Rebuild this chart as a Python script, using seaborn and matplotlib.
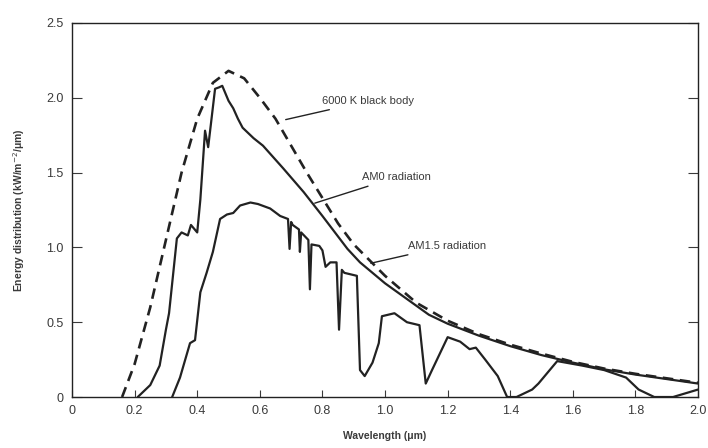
"""
Solar spectrum: 6000 K black body, AM0 and AM1.5 radiation
"""

import matplotlib.pyplot as plt
import pandas as pd
import seaborn as sns

# wavelength (um) / energy distribution (kW/m^2/um)
bb_x = [0.16, 0.2, 0.25, 0.3, 0.35, 0.4, 0.45, 0.5, 0.55, 0.6, 0.65, 0.7, 0.75,
        0.8, 0.85, 0.9, 1.0, 1.1, 1.2, 1.3, 1.4, 1.5, 1.6, 1.7, 1.8, 1.9, 2.0]
bb_y = [0.0, 0.22, 0.6, 1.05, 1.5, 1.86, 2.1, 2.18, 2.13, 2.0, 1.86, 1.68, 1.5,
        1.33, 1.16, 1.02, 0.81, 0.63, 0.51, 0.42, 0.35, 0.29, 0.235, 0.19, 0.155,
        0.125, 0.095]

am0_x = [0.21, 0.25, 0.28, 0.3, 0.31, 0.335, 0.35, 0.37, 0.38, 0.4, 0.41, 0.425,
         0.435, 0.457, 0.47, 0.48, 0.5, 0.515, 0.53, 0.545, 0.58, 0.61, 0.674,
         0.74, 0.8, 0.88, 0.92, 1.0, 1.14, 1.2, 1.3, 1.4, 1.5, 1.6, 1.7, 1.8,
         1.9, 2.0]
am0_y = [0.0, 0.08, 0.21, 0.45, 0.56, 1.06, 1.1, 1.08, 1.15, 1.1, 1.32, 1.78,
         1.67, 2.06, 2.07, 2.08, 1.98, 1.93, 1.86, 1.8, 1.73, 1.68, 1.53,
         1.37, 1.21, 0.99, 0.9, 0.76, 0.55, 0.49, 0.41, 0.34, 0.28, 0.23,
         0.185, 0.15, 0.12, 0.09]

am15_x = [0.32, 0.345, 0.377, 0.393, 0.41, 0.43, 0.45, 0.473, 0.495, 0.515,
          0.537, 0.57, 0.594, 0.633, 0.665, 0.69, 0.695, 0.70, 0.705, 0.725,
          0.728, 0.732, 0.755, 0.76, 0.765, 0.79, 0.80, 0.81, 0.825, 0.845,
          0.853, 0.862, 0.87, 0.91, 0.92, 0.935, 0.96, 0.98, 0.99, 1.03, 1.07,
          1.11, 1.13, 1.15, 1.2, 1.24, 1.27, 1.29, 1.32, 1.36, 1.39, 1.42,
          1.47, 1.49, 1.55, 1.63, 1.7, 1.77, 1.81, 1.86, 1.92, 2.0]
am15_y = [0.0, 0.13, 0.36, 0.38, 0.7, 0.83, 0.97, 1.19, 1.22, 1.23,
          1.28, 1.3, 1.29, 1.26, 1.21, 1.19, 0.99, 1.17, 1.15, 1.12,
          0.97, 1.1, 1.05, 0.72, 1.02, 1.01, 0.98, 0.87, 0.9, 0.9,
          0.45, 0.85, 0.83, 0.81, 0.18, 0.14, 0.23, 0.36, 0.54, 0.56, 0.5,
          0.48, 0.09, 0.18, 0.4, 0.37, 0.32, 0.33, 0.25, 0.14, 0.0, 0.0,
          0.05, 0.09, 0.24, 0.21, 0.18, 0.13, 0.05, 0.0, 0.0, 0.05]

x_ticks = [0, 0.2, 0.4, 0.6, 0.8, 1.0, 1.2, 1.4, 1.6, 1.8, 2.0]
x_labels = ['0', '0.2', '0.4', '0.6', '0.8', '1.0', '1.2', '1.4', '1.6', '1.8', '2.0']
y_ticks = [0, 0.5, 1.0, 1.5, 2.0, 2.5]
y_labels = ['0', '0.5', '1.0', '1.5', '2.0', '2.5']

sns.set_style("ticks")
plt.rcParams['font.family'] = ['Liberation Sans', 'DejaVu Sans']

ink = '#222222'
txt = '#3a3a3a'

fig = plt.figure(figsize=(7.08, 4.48), dpi=100)
ax = fig.add_axes([0.1017, 0.1138, 0.8843, 0.8349])

bb = pd.DataFrame({'x': bb_x, 'y': bb_y})
am0 = pd.DataFrame({'x': am0_x, 'y': am0_y})
am15 = pd.DataFrame({'x': am15_x, 'y': am15_y})

sns.lineplot(data=bb, x='x', y='y', ax=ax, sort=False, estimator=None,
             color=ink, lw=1.9, linestyle=(0, (4, 2.5)))
sns.lineplot(data=am0, x='x', y='y', ax=ax, sort=False, estimator=None,
             color=ink, lw=1.6)
sns.lineplot(data=am15, x='x', y='y', ax=ax, sort=False, estimator=None,
             color=ink, lw=1.6)

ax.set_xlim(0, 2.0)
ax.set_ylim(0, 2.5)
ax.set_xticks(x_ticks)
ax.set_xticklabels(x_labels)
ax.set_yticks(y_ticks)
ax.set_yticklabels(y_labels)
ax.tick_params(axis='x', direction='in', length=5, width=0.8, colors=txt,
               labelsize=9, pad=6)
ax.tick_params(axis='y', direction='in', length=7, width=0.8, colors=txt,
               labelsize=9, pad=6, right=True)
for s in ax.spines.values():
    s.set_color(ink)
    s.set_linewidth(1.0)

ax.set_xlabel('Wavelength (\u03bcm)', fontsize=7.5, color=txt, labelpad=10,
              fontweight='bold')
ax.set_ylabel('Energy distribution (kW/m$^{-2}$/\u03bcm)', fontsize=7.5,
              color=txt, labelpad=14, fontweight='bold')

# callouts
arrow = dict(arrowstyle='-', color=ink, lw=1.0)
ax.annotate('6000 K black body', xy=(0.674, 1.85), xytext=(0.80, 1.98),
            fontsize=8, color=txt, va='center', arrowprops=arrow)
ax.annotate('AM0 radiation', xy=(0.767, 1.29), xytext=(0.927, 1.47),
            fontsize=8, color=txt, va='center', arrowprops=arrow)
ax.annotate('AM1.5 radiation', xy=(0.946, 0.89), xytext=(1.073, 1.01),
            fontsize=8, color=txt, va='center', arrowprops=arrow)

plt.savefig('out.png', dpi=100)
